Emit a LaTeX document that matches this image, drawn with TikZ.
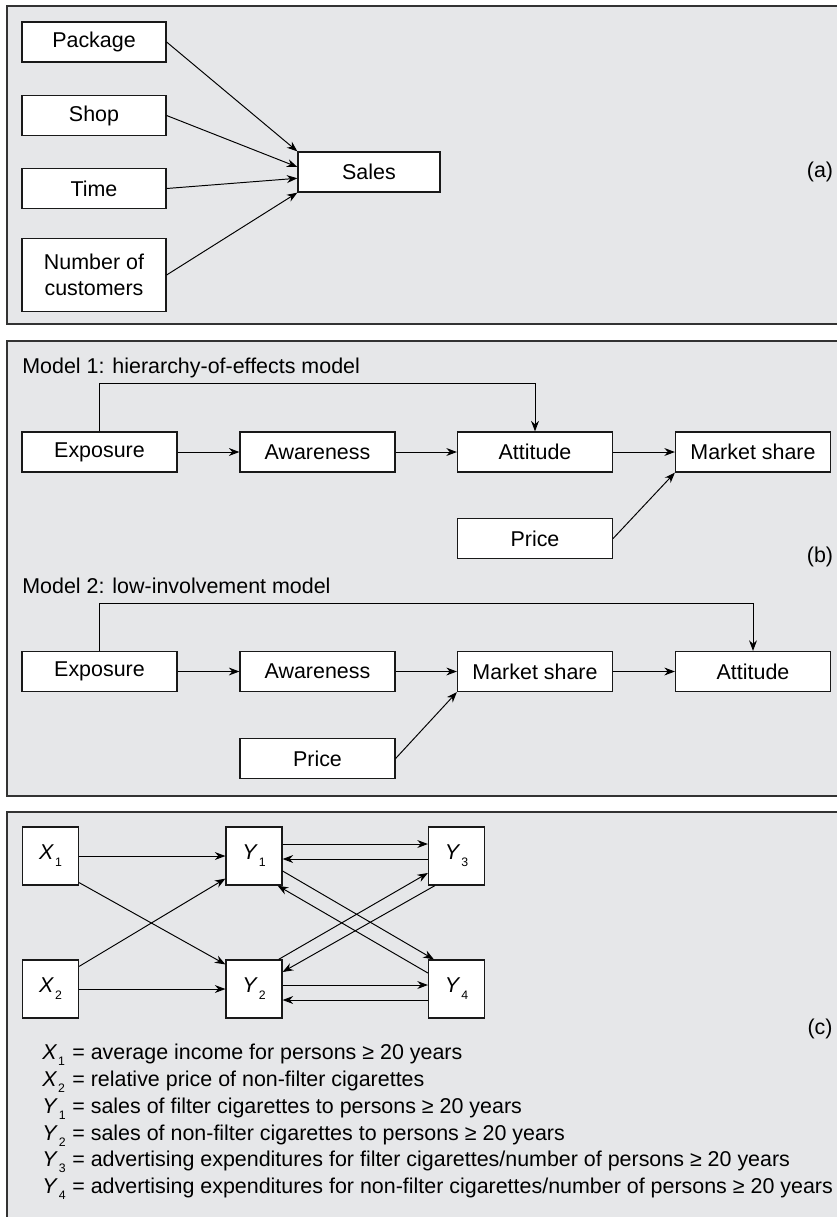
\documentclass[tikz,border=0pt]{standalone}
\usepackage{fontspec}
\setmainfont{Liberation Sans}
\usetikzlibrary{arrows.meta,calc}

\definecolor{panelgray}{HTML}{E6E7E9}
\newcommand{\varsub}[2]{\textit{#1}\kern0.5pt\raisebox{-0.6ex}{\scriptsize #2}}

\begin{document}
\begin{tikzpicture}[x=0.02cm, y=-0.02cm,
		panel/.style={draw=black!80, line width=0.7pt, fill=panelgray},
		box/.style={draw=black!90, line width=0.7pt, fill=white, inner sep=0pt,
			align=center, font=\fontsize{12.2}{14.5}\selectfont},
		wide/.style={box, minimum width=3.1cm, minimum height=0.8cm},
		var/.style={box, minimum width=1.12cm, minimum height=1.16cm},
		link/.style={-{Stealth[length=6pt,width=4.5pt]}, line width=0.55pt},
		txt/.style={inner sep=0pt, font=\fontsize{12.2}{14.5}\selectfont}]
	\useasboundingbox (0,0) rectangle (837,1217);

	% panels
	\draw [panel] (7,6) rectangle (850,324);
	\draw [panel] (7,341) rectangle (850,796);
	\draw [panel] (7,812) rectangle (850,1240);

	% (a)
	\node (pack) [box, minimum width=2.88cm, minimum height=0.8cm] at (94,42) {Package};
	\node (shop) [box, minimum width=2.88cm, minimum height=0.8cm] at (94,115.5) {Shop};
	\node (time) [box, minimum width=2.88cm, minimum height=0.8cm] at (94,188.5) {Time};
	\node (cust) [box, minimum width=2.88cm, minimum height=1.46cm] at (94,275) {Number of\\customers};
	\node (sales) [box, minimum width=2.84cm, minimum height=0.8cm] at (369,172) {Sales};
	\node (la) [txt] at (820,172) {(a)};

	\draw [link] (pack.east) -- (sales.north west);
	\draw [link] (shop.east) -- (sales.176);
	\draw [link] (time.east) -- (sales.185);
	\draw [link] (cust.east) -- (sales.south west);

	% (b) model 1
	\node (mod1) [txt, anchor=west] at (22,368) {Model 1: hierarchy-of-effects model};
	\node (exp1) [wide] at (99.5,452) {Exposure};
	\node (awa1) [wide] at (317.5,452) {Awareness};
	\node (att1) [wide] at (535,452) {Attitude};
	\node (mks1) [wide] at (753,452) {Market share};
	\node (pri1) [wide] at (535,538.5) {Price};

	\draw [link] (exp1) -- (awa1);
	\draw [link] (awa1) -- (att1);
	\draw [link] (att1) -- (mks1);
	\draw [link] (pri1.east) -- (mks1.south west);
	\draw [link] (exp1.north) -- ++(0,-48) -| (att1.north);

	\node (lb) [txt] at (820,557) {(b)};

	% (b) model 2
	\node (mod2) [txt, anchor=west] at (22,586) {Model 2: low-involvement model};
	\node (exp2) [wide] at (99.5,671.5) {Exposure};
	\node (awa2) [wide] at (317.5,671.5) {Awareness};
	\node (mks2) [wide] at (535,671.5) {Market share};
	\node (att2) [wide] at (753,671.5) {Attitude};
	\node (pri2) [wide] at (317.5,758.5) {Price};

	\draw [link] (exp2) -- (awa2);
	\draw [link] (awa2) -- (mks2);
	\draw [link] (mks2) -- (att2);
	\draw [link] (pri2.east) -- (mks2.south west);
	\draw [link] (exp2.north) -- ++(0,-47.5) -| (att2.north);

	% (c)
	\node (x1) [var] at (50.5,856) {\varsub{X}{1}};
	\node (y1) [var] at (254,856) {\varsub{Y}{1}};
	\node (y3) [var] at (456.5,856) {\varsub{Y}{3}};
	\node (x2) [var] at (50.5,989) {\varsub{X}{2}};
	\node (y2) [var] at (254,989) {\varsub{Y}{2}};
	\node (y4) [var] at (456.5,989) {\varsub{Y}{4}};

	\draw [link] (x1) -- (y1);
	\draw [link] (x2) -- (y2);
	\draw [link] ($(x1.south east)+(0,-3)$) -- ($(y2.north west)+(0,5)$);
	\draw [link] ($(x2.north east)+(0,7)$) -- ($(y1.south west)+(0,-7)$);
	\draw [link] ($(y1.east)+(0,-12)$) -- ($(y3.west)+(0,-12)$);
	\draw [link] ($(y3.west)+(0,3)$) -- ($(y1.east)+(0,3)$);
	\draw [link] ($(y2.east)+(0,-4)$) -- ($(y4.west)+(0,-4)$);
	\draw [link] ($(y4.west)+(0,11)$) -- ($(y2.east)+(0,11)$);
	\draw [link] ($(y1.east)+(0,15)$) -- ($(y4.north west)+(6,0)$);
	\draw [link] ($(y4.west)+(0,-16)$) -- ($(y1.south east)+(-5,0)$);
	\draw [link] ($(y2.north east)+(-4,0)$) -- ($(y3.west)+(0,17)$);
	\draw [link] ($(y3.south west)+(7,0)$) -- ($(y2.east)+(0,-17)$);

	\node (lc) [txt] at (820,1029) {(c)};

	% legend
	\node (def1) [txt, anchor=base west] at (42,1059) {\makebox[0.6cm][l]{\varsub{X}{1}}= average income for persons ≥ 20 years};
	\node (def2) [txt, anchor=base west] at (42,1086) {\makebox[0.6cm][l]{\varsub{X}{2}}= relative price of non-filter cigarettes};
	\node (def3) [txt, anchor=base west] at (42,1113) {\makebox[0.6cm][l]{\varsub{Y}{1}}= sales of filter cigarettes to persons ≥ 20 years};
	\node (def4) [txt, anchor=base west] at (42,1140) {\makebox[0.6cm][l]{\varsub{Y}{2}}= sales of non-filter cigarettes to persons ≥ 20 years};
	\node (def5) [txt, anchor=base west] at (42,1166) {\makebox[0.6cm][l]{\varsub{Y}{3}}= advertising expenditures for filter cigarettes/number of persons ≥ 20 years};
	\node (def6) [txt, anchor=base west] at (42,1193) {\makebox[0.6cm][l]{\varsub{Y}{4}}= advertising expenditures for non-filter cigarettes/number of persons ≥ 20 years};
\end{tikzpicture}
\end{document}
